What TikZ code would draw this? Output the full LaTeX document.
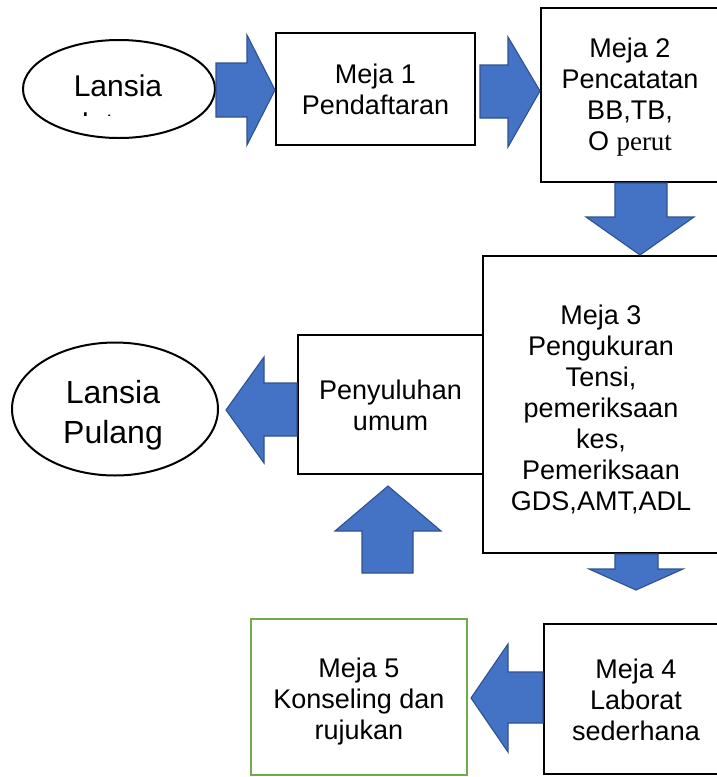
\documentclass[tikz,border=0pt]{standalone}
\usepackage{fontspec}
\setmainfont{Liberation Sans}
\newfontfamily\serifpart{Liberation Serif}
\usetikzlibrary{shapes.geometric}
\definecolor{arrowfill}{HTML}{4472C4}
\definecolor{arrowedge}{HTML}{2F528F}
\definecolor{greenedge}{HTML}{70AD47}
\tikzset{
  box/.style={draw=black, line width=2pt, fill=white, inner sep=0pt},
  boxtext/.style={inner sep=0pt, align=center, font=\fontsize{27}{31}\selectfont},
  oval/.style={draw=black, line width=2pt, ellipse, inner sep=0pt},
  blockarrow/.style={fill=arrowfill, draw=arrowedge, line width=1.1pt, line join=miter},
  label/.style={inner sep=0pt, align=center}
}
\begin{document}
\begin{tikzpicture}[x=1pt, y=-1pt]
\clip (0,0) rectangle (717,777);
\fill[white] (0,0) rectangle (717,777);

% process boxes
\node[box, minimum width=199pt, minimum height=112pt] (m1) at (375.5,89) {};
\node[box, minimum width=178pt, minimum height=174pt] (m2) at (630,95) {};
\node[box, minimum width=236pt, minimum height=297pt] (m3) at (601,404.5) {};
\node[box, minimum width=185pt, minimum height=139pt] (py) at (390.5,404.5) {};
\node[box, minimum width=184pt, minimum height=150pt] (m4) at (636,699) {};
\node[box, draw=greenedge, minimum width=216pt, minimum height=156pt] (m5) at (359,697) {};

% their texts
\node[boxtext] (m1t) at (m1) {Meja 1\\Pendaftaran};
\node[boxtext, yshift=-2pt] (m2t) at (m2) {Meja 2\\Pencatatan\\BB,TB,\\O {\serifpart perut}};
\node[boxtext, yshift=-5pt] (m3t) at (m3) {Meja 3\\Pengukuran\\Tensi,\\pemeriksaan\\kes,\\Pemeriksaan\\GDS,AMT,ADL};
\node[boxtext, yshift=-1pt] (pyt) at (py) {Penyuluhan\\umum};
\node[boxtext, yshift=-1pt] (m4t) at (m4) {Meja 4\\Laborat\\sederhana};
\node[boxtext, yshift=-5pt] (m5t) at (m5) {Meja 5\\Konseling dan\\rujukan};

% start oval, its second line cut off by the text frame
\node[oval, minimum width=192pt, minimum height=98pt] (start) at (119,89) {};
\node[label, font=\fontsize{30}{34}\selectfont, anchor=base] (startlbl) at (118,96) {Lansia};
\begin{scope}
  \clip (60,111) rectangle (180,115);
  \node[label, font=\fontsize{30}{34}\selectfont, anchor=base] (startlbl2) at (118,134) {datang};
\end{scope}

% end oval
\node[oval, minimum width=206pt, minimum height=133pt] (finish) at (115,409) {};
\node[label, font=\fontsize{32}{40}\selectfont] (finishlbl) at (113,415) {Lansia\\Pulang};

% block arrows between the steps
\draw[blockarrow] (216,63) -- (247,63) -- (247,35) -- (m1.west |- 0,90) -- (247,145) -- (247,117) -- (216,117) -- cycle;
\draw[blockarrow] (480,65) -- (508,65) -- (508,37) -- (m2.west |- 0,91) -- (508,147) -- (508,118) -- (480,118) -- cycle;
\draw[blockarrow] (m2.south -| 615,0) -- (615,217) -- (586,217) -- (m3.north -| 640,0) -- (694,217) -- (667,217) -- (m2.south -| 667,0) -- cycle;
\draw[blockarrow] (py.west |- 0,383) -- (264,383) -- (264,357) -- (226,410) -- (264,463) -- (264,436) -- (py.west |- 0,436) -- cycle;
\draw[blockarrow] (362,573) -- (362,531) -- (335,531) -- (388,486) -- (441,531) -- (413,531) -- (413,573) -- cycle;
\draw[blockarrow] (m3.south -| 615,0) -- (615,569) -- (589,569) -- (636,590) -- (683,569) -- (658,569) -- (m3.south -| 658,0) -- cycle;
\draw[blockarrow] (m4.west |- 0,672) -- (508,672) -- (508,644) -- (471,698) -- (508,752) -- (508,723) -- (m4.west |- 0,723) -- cycle;
\end{tikzpicture}
\end{document}
